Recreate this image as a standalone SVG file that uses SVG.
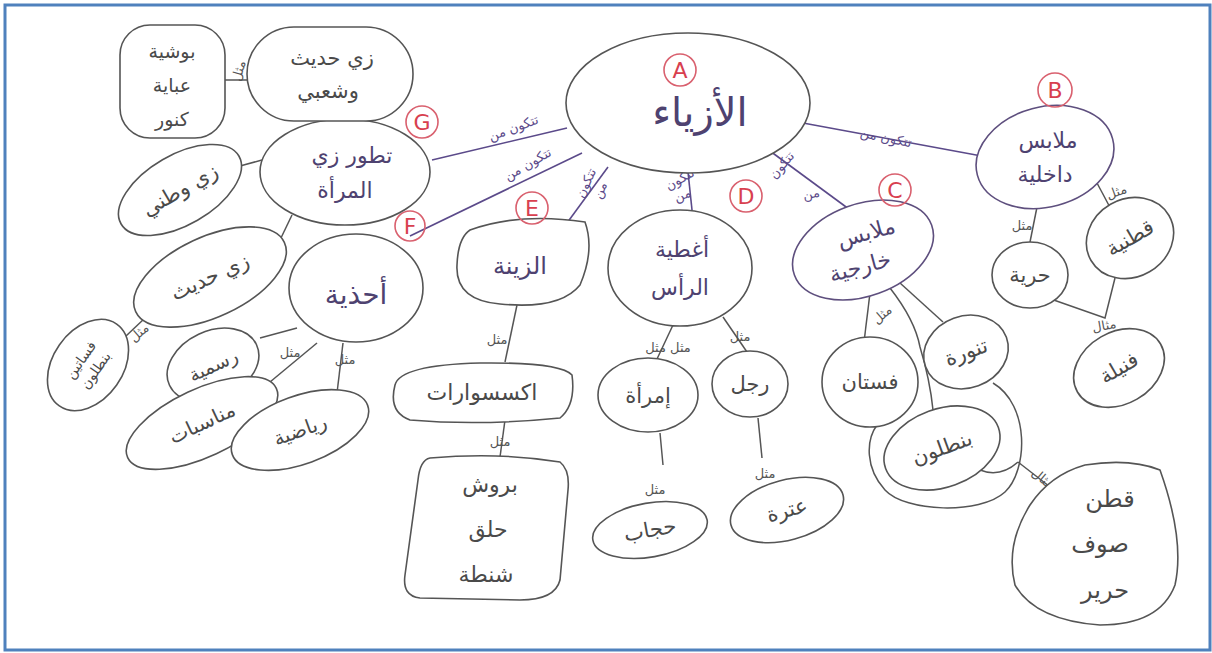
<svg xmlns="http://www.w3.org/2000/svg" width="1212" height="653" viewBox="0 0 1212 653">
<style>
.n{fill:#fff;stroke:#555;stroke-width:1.6}
.np{fill:#fff;stroke:#5e4f7e;stroke-width:1.6}
.t{font-family:"DejaVu Sans",sans-serif;fill:#4a4a4a;text-anchor:middle;font-size:21px}
.tp{font-family:"DejaVu Sans",sans-serif;fill:#4e4270;text-anchor:middle;font-size:22px}
.l{font-family:"DejaVu Sans",sans-serif;fill:#555;text-anchor:middle;font-size:13px}
.lp{font-family:"DejaVu Sans",sans-serif;fill:#5b4a8a;text-anchor:middle;font-size:13px}
.c{fill:none;stroke:#555;stroke-width:1.5}
.cp{fill:none;stroke:#5b4a8a;stroke-width:1.6}
.r{fill:none;stroke:#d9606e;stroke-width:1.6}
.rt{font-family:"DejaVu Sans",sans-serif;fill:#d8404f;text-anchor:middle;font-size:22px}
</style>
<rect x="5" y="5" width="1205" height="645" fill="#fff" stroke="#4f81bd" stroke-width="3"/>
<g id="connectors">
<path class="cp" d="M567,128 L432,160"/>
<path class="cp" d="M582,153 L410,236"/>
<path class="cp" d="M608,167 L567,223"/>
<path class="cp" d="M688,172 L692,210"/>
<path class="cp" d="M770,151 L857,215"/>
<path class="cp" d="M803,123 L987,157"/>
<path class="c" d="M357,103 L373,125"/>
<path class="c" d="M225,80 L250,80"/>
<path class="c" d="M262,160 L240,166"/>
<path class="c" d="M292,215 L280,240"/>
<path class="c" d="M145,318 L126,336"/>
<path class="c" d="M297,328 L260,338"/>
<path class="c" d="M317,343 L270,382"/>
<path class="c" d="M343,343 L337,393"/>
<path class="c" d="M517,305 L505,362"/>
<path class="c" d="M505,420 L500,457"/>
<path class="c" d="M673,325 L657,359"/>
<path class="c" d="M723,317 L747,352"/>
<path class="c" d="M660,433 L663,465"/>
<path class="c" d="M758,418 L762,458"/>
<path class="c" d="M870,293 L864,342"/>
<path class="c" d="M890,288 Q915,320 920,347 Q930,380 933,410"/>
<path class="c" d="M900,283 L943,322"/>
<path class="c" d="M993,383 C1030,405 1028,470 1005,492 C980,515 905,512 885,490 C865,468 866,440 877,425"/>
<path class="c" d="M980,470 Q1000,478 1018,462"/>
<path class="c" d="M1018,462 L1063,497"/>
<path class="c" d="M1037,207 L1030,242"/>
<path class="c" d="M1097,183 L1113,213"/>
<path class="c" d="M1048,298 L1105,318 L1115,278"/>
</g>
<g id="labels">
<text class="lp" transform="translate(515,132) rotate(-20)">تتكون من</text>
<text class="lp" transform="translate(530,168) rotate(-30)">تتكون من</text>
<text class="lp" transform="translate(590,185) rotate(-65)">تتكون</text>
<text class="lp" transform="translate(604,192) rotate(-65)">من</text>
<text class="lp" transform="translate(682,183) rotate(-30)">تتكون</text>
<text class="lp" transform="translate(684,199) rotate(-20)">من</text>
<text class="lp" transform="translate(785,168) rotate(-50)">تتكون</text>
<text class="lp" transform="translate(812,198) rotate(-10)">من</text>
<text class="lp" transform="translate(885,142) rotate(12)">تتكون من</text>
<text class="l" transform="translate(243,72) rotate(-75)">مثل</text>
<text class="l" transform="translate(382,108)">مثل</text>
<text class="l" transform="translate(142,336) rotate(-40)">مثل</text>
<text class="l" transform="translate(290,357)">مثل</text>
<text class="l" transform="translate(345,364)">مثل</text>
<text class="l" transform="translate(497,344)">مثل</text>
<text class="l" transform="translate(500,446)">مثل</text>
<text class="l" transform="translate(668,352)">مثل مثل</text>
<text class="l" transform="translate(740,341)">مثل</text>
<text class="l" transform="translate(655,494)">مثل</text>
<text class="l" transform="translate(765,478)">مثل</text>
<text class="l" transform="translate(885,318) rotate(-40)">مثل</text>
<text class="l" transform="translate(1040,482) rotate(40)">مثال</text>
<text class="l" transform="translate(1022,230)">مثل</text>
<text class="l" transform="translate(1118,196) rotate(-20)">مثل</text>
<text class="l" transform="translate(1105,330) rotate(-10)">مثال</text>
</g>
<g id="nodeA">
<ellipse class="n" cx="688" cy="103" rx="122" ry="70"/>
<circle class="r" cx="680" cy="70" r="16"/>
<text class="rt" x="680" y="78">A</text>
<text class="tp" x="700" y="126" style="font-size:40px">الأزياء</text>
</g>
<g id="nodeB">
<ellipse class="np" cx="1045" cy="157" rx="70" ry="50" transform="rotate(-15 1045 157)"/>
<circle class="r" cx="1055" cy="90" r="17"/>
<text class="rt" x="1055" y="98">B</text>
<text class="tp" x="1048" y="148">ملابس</text>
<text class="tp" x="1045" y="182">داخلية</text>
</g>
<g id="nodeC">
<ellipse class="np" cx="863" cy="250" rx="73" ry="46" transform="rotate(-20 863 250)"/>
<circle class="r" cx="895" cy="190" r="16"/>
<text class="rt" x="895" y="198">C</text>
<text class="tp" x="868" y="240" transform="rotate(-15 868 240)">ملابس</text>
<text class="tp" x="862" y="274" transform="rotate(-15 862 274)">خارجية</text>
</g>
<g id="nodeD">
<ellipse class="n" cx="680" cy="268" rx="72" ry="58"/>
<circle class="r" cx="746" cy="196" r="16"/>
<text class="rt" x="746" y="204">D</text>
<text class="tp" x="682" y="257">أغطية</text>
<text class="tp" x="680" y="295">الرأس</text>
</g>
<g id="nodeE">
<path class="n" d="M470,230 Q520,212 585,222 Q595,250 580,285 Q560,310 500,304 Q455,300 457,265 Q458,238 470,230 Z"/>
<circle class="r" cx="532" cy="208" r="16"/>
<text class="rt" x="532" y="216">E</text>
<text class="tp" x="520" y="274" style="font-size:24px">الزينة</text>
</g>
<g id="nodeF">
<ellipse class="n" cx="356" cy="288" rx="67" ry="54"/>
<circle class="r" cx="410" cy="226" r="15"/>
<text class="rt" x="410" y="234">F</text>
<text class="tp" x="356" y="304" style="font-size:28px">أحذية</text>
</g>
<g id="nodeG">
<ellipse class="n" cx="345" cy="172" rx="85" ry="53"/>
<circle class="r" cx="422" cy="122" r="16"/>
<text class="rt" x="422" y="130">G</text>
<text class="tp" x="352" y="163">تطور زي</text>
<text class="tp" x="345" y="198">المرأة</text>
</g>
<g id="nodeModern">
<rect class="n" x="247" y="27" width="166" height="94" rx="47"/>
<text class="t" x="332" y="65">زي حديث</text>
<text class="t" x="328" y="98">وشعبي</text>
</g>
<g id="nodeBushiya">
<rect class="n" x="120" y="25" width="105" height="113" rx="30"/>
<text class="t" x="172" y="58" style="font-size:19px">بوشية</text>
<text class="t" x="172" y="92" style="font-size:19px">عباية</text>
<text class="t" x="172" y="126" style="font-size:19px">كنور</text>
</g>
<g id="nodeNational">
<ellipse class="n" cx="180" cy="190" rx="68" ry="35" transform="rotate(-30 180 190)"/>
<text class="t" x="180" y="197" transform="rotate(-30 180 190)">زي وطني</text>
</g>
<g id="nodeHadith">
<ellipse class="n" cx="210" cy="277" rx="82" ry="40" transform="rotate(-25 210 277)"/>
<text class="t" x="210" y="284" transform="rotate(-25 210 277)">زي حديث</text>
</g>
<g id="nodeFasatin">
<ellipse class="n" cx="88" cy="365" rx="50" ry="35" transform="rotate(-55 88 365)"/>
<text class="t" x="88" y="361" style="font-size:14px" transform="rotate(-55 88 365)">فساتين</text>
<text class="t" x="88" y="379" style="font-size:14px" transform="rotate(-55 88 365)">بنطلون</text>
</g>
<g id="nodeRasmiya">
<ellipse class="n" cx="213" cy="365" rx="48" ry="34" transform="rotate(-25 213 365)"/>
<text class="t" x="213" y="372" style="font-size:19px" transform="rotate(-25 213 365)">رسمية</text>
</g>
<g id="nodeMunasabat">
<ellipse class="n" cx="202" cy="423" rx="82" ry="34" transform="rotate(-25 202 423)"/>
<text class="t" x="202" y="430" style="font-size:20px" transform="rotate(-25 202 423)">مناسبات</text>
</g>
<g id="nodeRiyadiya">
<ellipse class="n" cx="300" cy="430" rx="72" ry="34" transform="rotate(-20 300 430)"/>
<text class="t" x="300" y="437" style="font-size:20px" transform="rotate(-20 300 430)">رياضية</text>
</g>
<g id="nodeAccessories">
<path class="n" d="M395,385 Q400,365 480,363 Q560,362 572,375 Q576,405 560,418 Q480,426 410,420 Q388,412 395,385 Z"/>
<text class="t" x="482" y="400" style="font-size:22px">اكسسوارات</text>
</g>
<g id="nodeBrooch">
<path class="n" d="M430,458 Q500,452 560,462 Q570,470 568,490 L560,580 Q555,600 520,600 L420,598 Q402,596 405,575 L418,480 Q420,460 430,458 Z"/>
<text class="t" x="490" y="492" style="font-size:22px">بروش</text>
<text class="t" x="488" y="537" style="font-size:22px">حلق</text>
<text class="t" x="486" y="582" style="font-size:22px">شنطة</text>
</g>
<g id="nodeWoman">
<ellipse class="n" cx="648" cy="395" rx="50" ry="37"/>
<text class="t" x="648" y="403">إمرأة</text>
</g>
<g id="nodeMan">
<ellipse class="n" cx="750" cy="384" rx="38" ry="33"/>
<text class="t" x="750" y="391">رجل</text>
</g>
<g id="nodeHijab">
<ellipse class="n" cx="650" cy="530" rx="58" ry="27" transform="rotate(-10 650 530)"/>
<text class="t" x="650" y="537" transform="rotate(-10 650 530)">حجاب</text>
</g>
<g id="nodeItra">
<ellipse class="n" cx="787" cy="510" rx="58" ry="30" transform="rotate(-15 787 510)"/>
<text class="t" x="787" y="517" transform="rotate(-15 787 510)">عترة</text>
</g>
<g id="nodeFustan">
<ellipse class="n" cx="870" cy="382" rx="48" ry="45"/>
<text class="t" x="870" y="389">فستان</text>
</g>
<g id="nodeTannura">
<ellipse class="n" cx="966" cy="352" rx="43" ry="36" transform="rotate(-20 966 352)"/>
<text class="t" x="966" y="359" transform="rotate(-20 966 352)">تنورة</text>
</g>
<g id="nodeBantalon">
<ellipse class="n" cx="942" cy="448" rx="60" ry="39" transform="rotate(-20 942 448)"/>
<text class="t" x="942" y="455" transform="rotate(-20 942 448)">بنطلون</text>
</g>
<g id="nodeFabric">
<path class="n" d="M1085,465 Q1130,458 1160,470 Q1185,540 1175,585 Q1160,625 1100,625 Q1035,620 1015,585 Q1005,545 1030,505 Q1050,475 1085,465 Z"/>
<text class="t" x="1110" y="507" style="font-size:24px">قطن</text>
<text class="t" x="1100" y="552" style="font-size:24px">صوف</text>
<text class="t" x="1105" y="598" style="font-size:24px">حرير</text>
</g>
<g id="nodeQutniya">
<ellipse class="n" cx="1130" cy="238" rx="45" ry="39" transform="rotate(-30 1130 238)"/>
<text class="t" x="1130" y="245" transform="rotate(-30 1130 238)">قطنية</text>
</g>
<g id="nodeHariri">
<ellipse class="n" cx="1030" cy="275" rx="38" ry="33"/>
<text class="t" x="1030" y="282">حرية</text>
</g>
<g id="nodeFanila">
<ellipse class="n" cx="1119" cy="368" rx="48" ry="36" transform="rotate(-30 1119 368)"/>
<text class="t" x="1119" y="375" transform="rotate(-30 1119 368)">فنيلة</text>
</g>
</svg>
